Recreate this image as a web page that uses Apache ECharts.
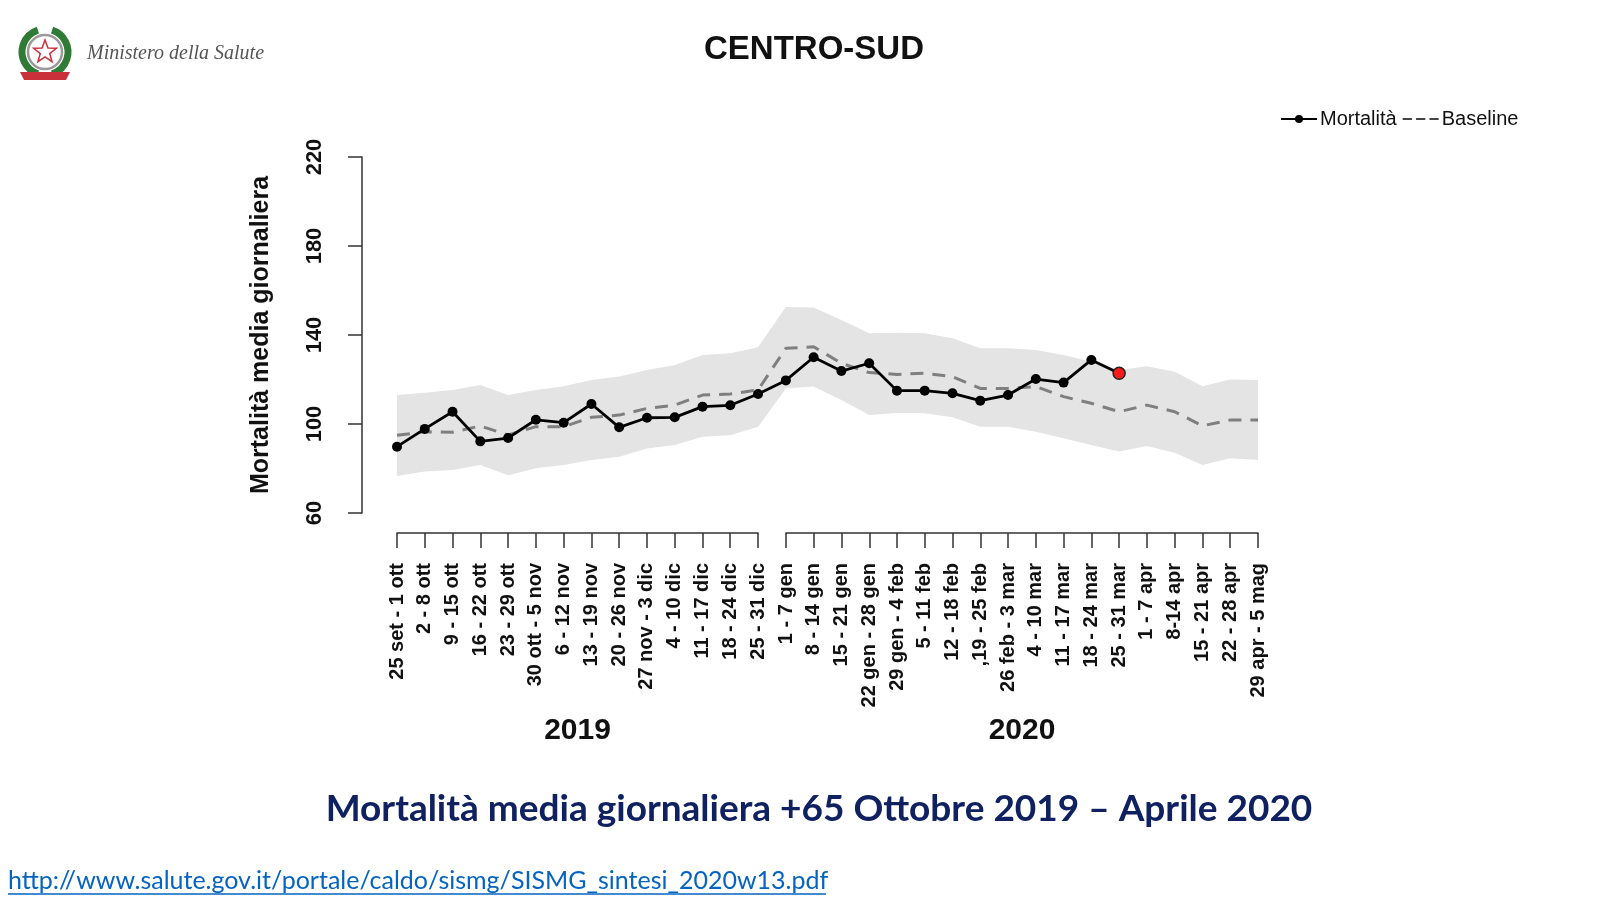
<!DOCTYPE html>
<html>
<head>
<meta charset="utf-8">
<title>CENTRO-SUD</title>
<script src="https://cdn.jsdelivr.net/npm/echarts@6/dist/echarts.min.js"></script>
<style>
  html, body { margin: 0; padding: 0; background: #fff; }
  #chart { width: 1600px; height: 902px; }
</style>
</head>
<body>
<div id="chart"></div>
<script>
// etichette delle settimane
const labels2019 = ['25 set - 1 ott', '2 - 8 ott', '9 - 15 ott', '16 - 22 ott', '23 - 29 ott',
  '30 ott - 5 nov', '6 - 12 nov', '13 - 19 nov', '20 - 26 nov', '27 nov - 3 dic',
  '4 - 10 dic', '11 - 17 dic', '18 - 24 dic', '25 - 31 dic'];
const labels2020 = ['1 - 7 gen', '8 - 14 gen', '15 - 21 gen', '22 gen - 28 gen', '29 gen - 4 feb',
  '5 - 11 feb', '12 - 18 feb', ',19 - 25 feb', '26 feb - 3 mar', '4 - 10 mar', '11 - 17 mar',
  '18 - 24 mar', '25 - 31 mar', '1 - 7 apr', '8-14 apr', '15 - 21 apr', '22 - 28 apr',
  '29 apr - 5 mag'];
const weeks = labels2019.concat(labels2020);

// mortalità osservata (ultimo punto in rosso)
const mortalita = [89.8, 97.8, 105.5, 92.2, 93.7, 101.9, 100.6, 109, 98.5, 102.8,
  103, 107.8, 108.4, 113.5, 119.6, 130, 123.8, 127.3, 115, 115,
  113.8, 110.5, 113, 120.2, 118.6, 128.8, 122.8, null, null, null, null, null];
// baseline
const baseline = [94.9, 96.5, 96.3, 99.1, 95.1, 98.8, 98.8, 103, 104, 107,
  108.5, 113, 113.5, 115.3, 134, 134.7, 127.3, 123.1, 122.3, 122.8,
  121.3, 116, 116, 116.8, 112.3, 109.3, 105.5, 108.5, 105.5, 99.2, 101.8, 101.8];
// banda di confidenza
const bandLow = [76.6, 78.6, 79.3, 81.6, 77, 80.1, 81.6, 83.8, 85.3, 89,
  90.6, 94.3, 95, 98.8, 116, 116.8, 110.8, 104, 105, 104.8,
  103, 98.8, 98.8, 96.5, 93.6, 90.6, 87.6, 90.1, 87.1, 81.6, 84.6, 83.8];
const bandHigh = [113, 114, 115.3, 117.5, 113, 115.3, 117, 119.8, 121.3, 124.3,
  126.5, 131, 131.8, 134.5, 152.6, 152.4, 146.7, 140.8, 141, 140.8,
  138.5, 134, 134, 133.3, 131, 128, 124.3, 126, 123.5, 117, 120, 119.8];
const yTicks = { min: 60, max: 220, step: 40 };
const redIndex = 26;

const axisColor = '#333';
const labelFont = 'Liberation Sans, Arial, sans-serif';

const chart = echarts.init(document.getElementById('chart'));

// stella dello stemma
const starPts = [];
for (let k = 0; k < 10; k++) {
  const a = -Math.PI / 2 + k * Math.PI / 5;
  const r = k % 2 === 0 ? 12 : 5;
  starPts.push([45 + r * Math.cos(a), 52 + r * Math.sin(a)]);
}

const option = {
  animation: false,
  backgroundColor: '#fff',
  title: [
    {
      text: 'CENTRO-SUD', left: 809, top: 45, textAlign: 'center', textVerticalAlign: 'middle',
      textStyle: { fontFamily: labelFont, fontSize: 33, fontWeight: 'bold', color: '#111' }
    },
    {
      text: 'Mortalità media giornaliera +65 Ottobre 2019 – Aprile 2020',
      left: 819, top: 809, textAlign: 'center', textVerticalAlign: 'middle', padding: 0,
      textStyle: { fontFamily: 'Lato, sans-serif', fontSize: 37, fontWeight: 'bold', color: '#0f2160' }
    },
    {
      text: 'http://www.salute.gov.it/portale/caldo/sismg/SISMG_sintesi_2020w13.pdf',
      left: 8, top: 881, textVerticalAlign: 'middle', padding: 0,
      textStyle: { fontFamily: 'Lato, sans-serif', fontSize: 25, fontWeight: 'normal', color: '#0563c1' }
    }
  ],
  legend: {
    data: [
      { name: 'Mortalità' },
      { name: 'Baseline', icon: 'path://M0,0h9v2h-9zM13,0h9v2h-9zM26,0h9v2h-9z', itemStyle: { color: '#444' } }
    ],
    left: 1275, top: 104,
    itemWidth: 36, itemHeight: 10, itemGap: 6,
    textStyle: { fontFamily: labelFont, fontSize: 20, color: '#111', padding: [0, 0, 0, -2] }
  },
  grid: [
    { left: 397, right: 342, top: 157, bottom: 389 },
    { left: 397, width: 361, top: 532, height: 1 },
    { left: 786, width: 472, top: 532, height: 1 }
  ],
  xAxis: [
    { type: 'category', gridIndex: 0, data: weeks, boundaryGap: false, show: false },
    {
      type: 'category', gridIndex: 1, data: labels2019, boundaryGap: false,
      axisLine: { lineStyle: { color: axisColor, width: 1.5 } },
      axisTick: { length: 15, interval: 0, lineStyle: { color: axisColor, width: 1.5 } },
      axisLabel: { rotate: 90, interval: 0, margin: 30, fontFamily: labelFont, fontSize: 20, fontWeight: 'bold', color: '#111' },
      name: '2019', nameLocation: 'middle', nameGap: 183,
      nameTextStyle: { fontFamily: labelFont, fontSize: 30, fontWeight: 'bold', color: '#111' }
    },
    {
      type: 'category', gridIndex: 2, data: labels2020, boundaryGap: false,
      axisLine: { lineStyle: { color: axisColor, width: 1.5 } },
      axisTick: { length: 15, interval: 0, lineStyle: { color: axisColor, width: 1.5 } },
      axisLabel: { rotate: 90, interval: 0, margin: 30, fontFamily: labelFont, fontSize: 20, fontWeight: 'bold', color: '#111' },
      name: '2020', nameLocation: 'middle', nameGap: 183,
      nameTextStyle: { fontFamily: labelFont, fontSize: 30, fontWeight: 'bold', color: '#111' }
    }
  ],
  yAxis: [
    {
      type: 'value', gridIndex: 0, min: yTicks.min, max: yTicks.max, interval: yTicks.step,
      offset: 35,
      axisLine: { show: true, lineStyle: { color: axisColor, width: 1.5 } },
      axisTick: { show: true, length: 14, lineStyle: { color: axisColor, width: 1.5 } },
      axisLabel: { rotate: 90, margin: 36, fontFamily: labelFont, fontSize: 22, fontWeight: 'bold', color: '#111' },
      splitLine: { show: false },
      name: 'Mortalità media giornaliera', nameLocation: 'middle', nameRotate: 90, nameGap: 88,
      nameTextStyle: { fontFamily: labelFont, fontSize: 25, fontWeight: 'bold', color: '#111' }
    },
    { type: 'value', gridIndex: 1, show: false },
    { type: 'value', gridIndex: 2, show: false }
  ],
  series: [
    {
      name: 'lower', type: 'line', data: bandLow, stack: 'band', symbol: 'none', silent: true,
      lineStyle: { opacity: 0 }, z: 1
    },
    {
      name: 'band', type: 'line', data: bandHigh.map((v, i) => +(v - bandLow[i]).toFixed(2)),
      stack: 'band', symbol: 'none', silent: true,
      lineStyle: { opacity: 0 }, areaStyle: { color: '#e4e4e4', opacity: 1 }, z: 1
    },
    {
      name: 'Baseline', type: 'line', data: baseline, symbol: 'none',
      itemStyle: { color: '#7f7f7f' },
      lineStyle: { color: '#7f7f7f', width: 3, type: [13, 9] }, z: 2
    },
    {
      name: 'Mortalità', type: 'line', symbol: 'circle', symbolSize: 10,
      data: mortalita.map((v, i) => i === redIndex
        ? { value: v, symbolSize: 12, itemStyle: { color: '#ff1a1a', borderColor: '#222', borderWidth: 1.5 } }
        : v),
      itemStyle: { color: '#000' },
      lineStyle: { color: '#000', width: 2.8 }, z: 3
    }
  ],
  graphic: [
    // stemma
    { type: 'arc', shape: { cx: 45, cy: 52, r: 23, startAngle: Math.PI * 0.6, endAngle: Math.PI * 1.4 },
      style: { stroke: '#2f7a34', lineWidth: 7, fill: null } },
    { type: 'arc', shape: { cx: 45, cy: 52, r: 23, startAngle: -Math.PI * 0.4, endAngle: Math.PI * 0.4 },
      style: { stroke: '#2f7a34', lineWidth: 7, fill: null } },
    { type: 'circle', shape: { cx: 45, cy: 52, r: 17 }, style: { fill: '#fff', stroke: '#9a9a9a', lineWidth: 2.5 } },
    { type: 'polygon', shape: { points: starPts }, style: { fill: '#fff', stroke: '#c9303a', lineWidth: 1.5 } },
    { type: 'polygon', shape: { points: [[20, 72], [70, 72], [66, 80], [24, 80]] }, style: { fill: '#c9303a' } },
    {
      type: 'text', left: 87, top: 44,
      style: { text: 'Ministero della Salute', fontFamily: 'Liberation Serif, serif', fontStyle: 'italic', fontSize: 20, fill: '#555' }
    },
    // sottolineatura del link
    { type: 'line', shape: { x1: 8, y1: 894, x2: 826, y2: 894 }, style: { stroke: '#0563c1', lineWidth: 1.5 } }
  ]
};

chart.setOption(option);
</script>
</body>
</html>
